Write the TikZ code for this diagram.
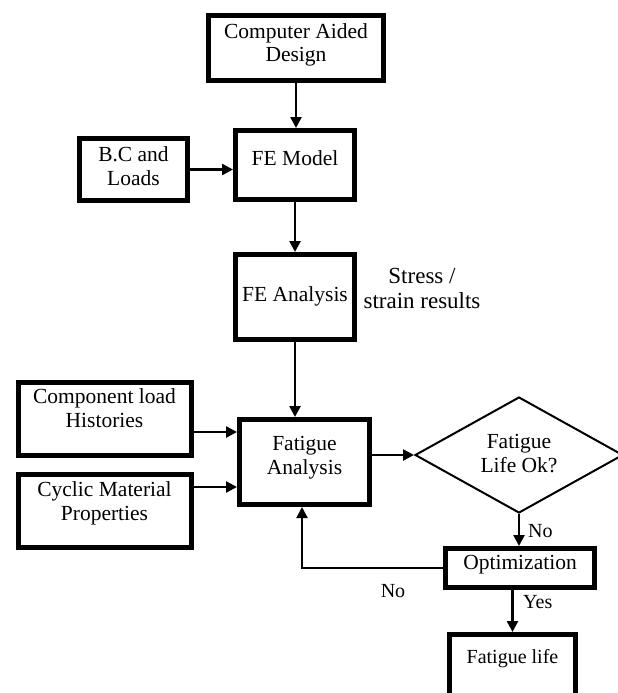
\documentclass[tikz,border=0pt]{standalone}
\usepackage{fontspec}
\setmainfont{Liberation Serif}
\usetikzlibrary{arrows.meta,shapes.geometric}

\begin{document}
\begin{tikzpicture}[x=1pt,y=-1pt,
	font=\fontsize{21.5}{24}\selectfont,
	box/.style={draw,line width=5pt,inner sep=0,align=center,anchor=north},
	arr/.style={line width=2.5pt,-{Triangle[length=11pt,width=11pt]}},
	txt/.style={inner sep=0,anchor=base}]
	\useasboundingbox (0,0) rectangle (618,693);
	\node[box,minimum width=175pt,text height=46.5pt,text depth=18.5pt] (1) at (296,13) {Computer Aided\\Design};
	\node[box,minimum width=119pt,text height=34.5pt,text depth=34.5pt] (2) at (295,128) {FE Model};
	\node[box,minimum width=108pt,text height=46.5pt,text depth=15.5pt] (3) at (133.5,136) {B.C and\\Loads};
	\node[box,minimum width=119pt,text height=46.5pt,text depth=38.5pt] (4) at (295,252) {FE Analysis};
	\node[box,minimum width=173pt,text height=44.5pt,text depth=28.5pt] (5) at (104.5,380) {Component load\\Histories};
	\node[box,minimum width=173pt,text height=45.5pt,text depth=27.5pt] (6) at (104.5,472) {Cyclic Material\\Properties};
	\node[box,minimum width=130pt,text height=54.5pt,text depth=30.5pt] (7) at (304.5,417) {Fatigue\\Analysis};
	\node[draw,diamond,aspect=2,line width=2pt,inner sep=0,align=center,minimum width=208pt,minimum height=116pt,text height=39pt,text depth=5pt] (8) at (519,455) {Fatigue\\Life Ok?};
	\node[box,minimum width=149pt,text height=20.5pt,text depth=18.5pt] (9) at (520,546) {Optimization};
	\node[box,minimum width=126pt,text height=28.5pt,text depth=47pt,font=\fontsize{20}{24}\selectfont] (10) at (512.5,632) {Fatigue life};
	\node[txt,align=center,font=\fontsize{23}{25}\selectfont] (11) at (422,308) {Stress /\\strain results};
	\node[txt,anchor=base west,font=\fontsize{20}{24}\selectfont] (12) at (528,537) {No};
	\node[txt,font=\fontsize{20}{24}\selectfont] (13) at (393,597) {No};
	\node[txt,anchor=base west,font=\fontsize{20}{24}\selectfont] (14) at (523,608) {Yes};
	\draw[arr] (1.south) -- (1.south |- 2.north);
	\draw[arr] (3.east) -- (3.east -| 2.west);
	\draw[arr] (2.south) -- (2.south |- 4.north);
	\draw[arr] (4.south) -- (4.south |- 7.north);
	\draw[arr] ([yshift=-13pt]5.east) -- ([yshift=-13pt]5.east -| 7.west);
	\draw[arr] ([yshift=24pt]6.east) -- ([yshift=24pt]6.east -| 7.west);
	\draw[arr] (8.west -| 7.east) -- (8.west);
	\draw[arr] (8.south) -- (8.south |- 9.north);
	\draw[arr,line width=2pt] (9.west) -| ([xshift=-2.5pt]7.south);
	\draw[arr] (10.north |- 9.south) -- (10.north);
\end{tikzpicture}
\end{document}
